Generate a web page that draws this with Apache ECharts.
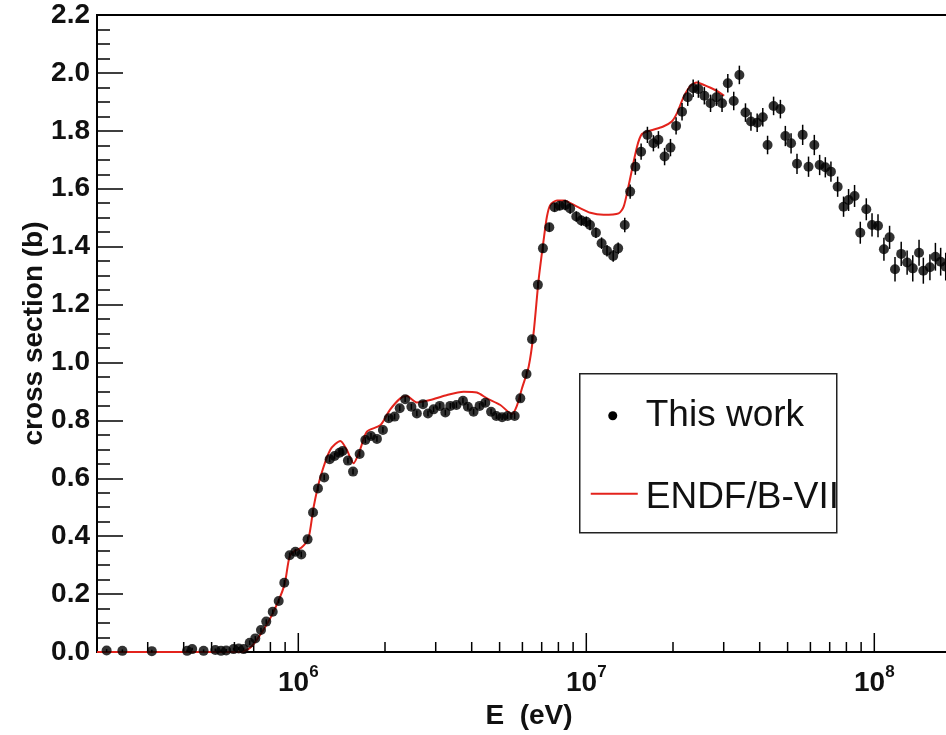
<!DOCTYPE html>
<html>
<head>
<meta charset="utf-8">
<script src="https://cdn.jsdelivr.net/npm/echarts@6/dist/echarts.min.js"></script>
<style>
  html, body { margin: 0; padding: 0; background: #fff; }
  #chart { width: 946px; height: 735px; }
</style>
</head>
<body>
<div id="chart"></div>
<script>
// Measured cross section: neutron energy (eV), value (b), uncertainty (b)
const expE = [
  2.16e5, 2.45e5, 3.10e5, 4.11e5, 4.28e5, 4.69e5, 5.15e5, 5.39e5, 5.62e5, 5.96e5,
  6.21e5, 6.46e5, 6.78e5, 7.09e5, 7.42e5, 7.74e5, 8.15e5, 8.55e5, 8.94e5, 9.33e5,
  9.77e5, 1.024e6, 1.077e6, 1.125e6, 1.17e6, 1.23e6, 1.285e6, 1.337e6, 1.39e6, 1.425e6,
  1.487e6, 1.549e6, 1.633e6, 1.709e6, 1.788e6, 1.875e6, 1.967e6, 2.06e6, 2.16e6, 2.25e6,
  2.35e6, 2.47e6, 2.58e6, 2.71e6, 2.82e6, 2.95e6, 3.10e6, 3.24e6, 3.37e6, 3.54e6,
  3.73e6, 3.88e6, 4.06e6, 4.26e6, 4.46e6, 4.67e6, 4.87e6, 5.10e6, 5.33e6, 5.64e6,
  5.90e6, 6.20e6, 6.48e6, 6.79e6, 7.07e6, 7.44e6, 7.76e6, 8.08e6, 8.45e6, 8.79e6,
  9.23e6, 9.61e6, 1.00e7, 1.03e7, 1.08e7, 1.13e7, 1.18e7, 1.24e7, 1.29e7, 1.36e7,
  1.42e7, 1.48e7, 1.55e7, 1.63e7, 1.71e7, 1.78e7, 1.87e7, 1.96e7, 2.05e7, 2.15e7,
  2.25e7, 2.35e7, 2.45e7, 2.57e7, 2.70e7, 2.83e7, 2.96e7, 3.10e7, 3.25e7, 3.40e7,
  3.57e7, 3.73e7, 3.92e7, 4.10e7, 4.26e7, 4.47e7, 4.72e7, 4.91e7, 5.14e7, 5.39e7,
  5.64e7, 5.91e7, 6.19e7, 6.46e7, 6.76e7, 7.07e7, 7.46e7, 7.82e7, 8.14e7, 8.54e7,
  8.94e7, 9.38e7, 9.82e7, 1.03e8, 1.08e8, 1.13e8, 1.18e8, 1.24e8, 1.30e8, 1.36e8,
  1.43e8, 1.48e8, 1.56e8, 1.63e8, 1.70e8, 1.77e8
];
const expSigma = [
  0.005, 0.004, 0.003, 0.004, 0.010, 0.004, 0.007, 0.004, 0.005, 0.010,
  0.012, 0.010, 0.032, 0.047, 0.076, 0.105, 0.139, 0.176, 0.239, 0.334,
  0.346, 0.337, 0.389, 0.482, 0.565, 0.603, 0.666, 0.677, 0.688, 0.694,
  0.661, 0.623, 0.684, 0.732, 0.746, 0.736, 0.767, 0.807, 0.813, 0.842,
  0.873, 0.847, 0.824, 0.856, 0.824, 0.838, 0.850, 0.827, 0.850, 0.853,
  0.868, 0.847, 0.830, 0.850, 0.861, 0.830, 0.815, 0.811, 0.815, 0.815,
  0.876, 0.960, 1.080, 1.268, 1.394, 1.467, 1.536, 1.541, 1.544, 1.532,
  1.504, 1.490, 1.486, 1.475, 1.448, 1.412, 1.386, 1.368, 1.394, 1.475,
  1.590, 1.676, 1.728, 1.786, 1.757, 1.769, 1.711, 1.742, 1.817, 1.866,
  1.916, 1.947, 1.944, 1.921, 1.895, 1.916, 1.895, 1.964, 1.903, 1.993,
  1.863, 1.832, 1.828, 1.847, 1.751, 1.886, 1.875, 1.782, 1.757, 1.686,
  1.786, 1.676, 1.751, 1.682, 1.674, 1.659, 1.607, 1.538, 1.561, 1.575,
  1.448, 1.529, 1.475, 1.472, 1.391, 1.432, 1.322, 1.375, 1.345, 1.325,
  1.379, 1.317, 1.329, 1.365, 1.348, 1.331
];
const expErr = [
  0.005, 0.005, 0.005, 0.005, 0.005, 0.005, 0.005, 0.005, 0.005, 0.005,
  0.005, 0.005, 0.008, 0.008, 0.008, 0.008, 0.008, 0.008, 0.010, 0.010,
  0.010, 0.010, 0.010, 0.010, 0.010, 0.010, 0.010, 0.010, 0.010, 0.010,
  0.010, 0.010, 0.010, 0.010, 0.010, 0.010, 0.010, 0.010, 0.010, 0.010,
  0.010, 0.010, 0.010, 0.010, 0.010, 0.010, 0.010, 0.010, 0.010, 0.010,
  0.010, 0.010, 0.010, 0.010, 0.010, 0.010, 0.010, 0.010, 0.010, 0.010,
  0.012, 0.012, 0.012, 0.012, 0.015, 0.015, 0.015, 0.015, 0.018, 0.018,
  0.018, 0.018, 0.018, 0.018, 0.018, 0.020, 0.020, 0.020, 0.020, 0.025,
  0.025, 0.028, 0.028, 0.028, 0.028, 0.030, 0.030, 0.030, 0.030, 0.030,
  0.030, 0.030, 0.030, 0.030, 0.030, 0.030, 0.030, 0.032, 0.032, 0.032,
  0.032, 0.032, 0.032, 0.032, 0.032, 0.032, 0.032, 0.035, 0.035, 0.035,
  0.035, 0.035, 0.035, 0.035, 0.035, 0.035, 0.035, 0.035, 0.038, 0.038,
  0.038, 0.038, 0.040, 0.040, 0.040, 0.040, 0.042, 0.042, 0.042, 0.045,
  0.045, 0.045, 0.045, 0.048, 0.048, 0.048
];

// Evaluated cross section (ENDF/B-VII): energy (eV), value (b)
const endfE = [
  2.0e5, 6.29e5, 6.81e5, 7.38e5, 8.12e5, 8.94e5, 9.33e5, 9.76e5, 1.024e6, 1.083e6,
  1.13e6, 1.19e6, 1.29e6, 1.40e6, 1.47e6, 1.556e6, 1.64e6, 1.73e6, 1.93e6, 2.08e6,
  2.26e6, 2.38e6, 2.58e6, 2.87e6, 3.24e6, 3.75e6, 4.17e6, 4.52e6, 5.03e6, 5.52e6,
  5.74e6, 5.98e6, 6.31e6, 6.56e6, 6.83e6, 7.11e6, 7.30e6, 7.50e6, 7.91e6, 8.34e6,
  9.29e6, 1.033e7, 1.148e7, 1.295e7, 1.348e7, 1.40e7, 1.50e7, 1.56e7, 1.67e7, 1.85e7,
  1.98e7, 2.065e7, 2.18e7, 2.30e7, 2.42e7, 2.55e7, 2.80e7, 3.01e7
];
const endfSigma = [
  0.0, 0.0, 0.015, 0.06, 0.13, 0.23, 0.33, 0.35, 0.36, 0.39,
  0.50, 0.60, 0.698, 0.729, 0.70, 0.652, 0.70, 0.761, 0.784, 0.836,
  0.876, 0.884, 0.862, 0.870, 0.886, 0.899, 0.896, 0.876, 0.853, 0.822,
  0.850, 0.911, 0.986, 1.101, 1.285, 1.423, 1.504, 1.544, 1.559, 1.559,
  1.538, 1.517, 1.510, 1.515, 1.538, 1.607, 1.745, 1.789, 1.801, 1.815,
  1.832, 1.861, 1.918, 1.955, 1.967, 1.959, 1.941, 1.921
];

// Axis ranges and labels
const xRange = [2e5, 2e8];
const yRange = [0, 2.2];
const yStep = 0.2;
const decadeExponents = [5, 6, 7, 8];
const minorMultipliers = [2, 3, 4, 5, 6, 7, 8, 9];
const legendLabels = ['This work', 'ENDF/B-VII'];
const xTitle = 'E  (eV)';
const yTitle = 'cross section (b)';

// tick marks along the energy axis: [energy, isMajor], kept inside the range
const xTicks = [];
decadeExponents.forEach(function (p) {
  xTicks.push([Math.pow(10, p), 1]);
  minorMultipliers.forEach(function (m) { xTicks.push([m * Math.pow(10, p), 0]); });
});
const xTicksInRange = xTicks.filter(function (t) { return t[0] > xRange[0] && t[0] < xRange[1]; });

const FONT = '"Liberation Sans", Arial, Helvetica, sans-serif';

const chart = echarts.init(document.getElementById('chart'), null, { renderer: 'canvas' });

const points = expE.map(function (e, i) { return [e, expSigma[i]]; });
const bars = expE.map(function (e, i) { return [e, expSigma[i], expErr[i]]; });
const curve = endfE.map(function (e, i) { return [e, endfSigma[i]]; });

chart.setOption({
  animation: false,
  backgroundColor: '#fff',
  grid: {
    left: 97, top: 15, right: -15, bottom: 83,
    outerBoundsMode: 'none', containLabel: false,
    show: true, borderColor: '#000', borderWidth: 2, backgroundColor: 'transparent'
  },
  xAxis: {
    type: 'log', logBase: 10, min: xRange[0], max: xRange[1],
    axisLine: { show: true, lineStyle: { color: '#000', width: 2 } },
    axisTick: { show: false },
    splitLine: { show: false },
    axisLabel: {
      margin: 12,
      formatter: function (v) {
        const p = Math.log10(v), r = Math.round(p);
        if (Math.abs(p - r) > 1e-6) return '';
        return '{b|10}{s|' + r + '}';
      },
      rich: {
        b: { fontFamily: FONT, fontWeight: 'bold', fontSize: 28, color: '#111', lineHeight: 33, verticalAlign: 'bottom' },
        s: { fontFamily: FONT, fontWeight: 'bold', fontSize: 17, color: '#111', lineHeight: 17, verticalAlign: 'top' }
      }
    },
    name: xTitle, nameLocation: 'middle', nameGap: 50, nameMoveOverlap: false,
    nameTextStyle: { fontFamily: FONT, fontWeight: 'bold', fontSize: 28, color: '#111' }
  },
  yAxis: {
    type: 'value', min: yRange[0], max: yRange[1], interval: yStep,
    axisLine: { show: true, lineStyle: { color: '#000', width: 2 } },
    axisTick: { show: true, inside: true, length: 26, lineStyle: { color: '#000', width: 1.5 } },
    minorTick: { show: true, splitNumber: 4, length: 13, lineStyle: { color: '#000', width: 1.5 } },
    splitLine: { show: false },
    axisLabel: {
      margin: 7, fontFamily: FONT, fontWeight: 'bold', fontSize: 28, color: '#111',
      formatter: function (v) { return v.toFixed(1); }
    },
    name: yTitle, nameLocation: 'middle', nameGap: 49, nameRotate: 90, nameMoveOverlap: false,
    nameTextStyle: { fontFamily: FONT, fontWeight: 'bold', fontSize: 28, color: '#111' }
  },
  series: [
    {
      // energy-axis tick marks, pointing into the frame
      type: 'custom', silent: true, z: 1,
      data: xTicksInRange,
      renderItem: function (params, api) {
        const p = api.coord([api.value(0), yRange[0]]);
        const len = api.value(1) ? 19 : 10;
        return {
          type: 'line',
          shape: { x1: p[0], y1: p[1], x2: p[0], y2: p[1] - len },
          style: { stroke: '#000', lineWidth: 1.5 }
        };
      }
    },
    {
      name: legendLabels[1], type: 'line', data: curve, z: 2,
      showSymbol: false, smooth: 0.25,
      lineStyle: { color: '#e3231c', width: 2 }
    },
    {
      // vertical error bars
      type: 'custom', silent: true, z: 3,
      data: bars,
      renderItem: function (params, api) {
        const e = api.value(0), s = api.value(1), d = api.value(2);
        const lo = api.coord([e, s - d]);
        const hi = api.coord([e, s + d]);
        return {
          type: 'line',
          shape: { x1: lo[0], y1: lo[1], x2: hi[0], y2: hi[1] },
          style: { stroke: '#000', lineWidth: 1.5 }
        };
      }
    },
    {
      name: legendLabels[0], type: 'scatter', data: points, z: 4,
      symbol: 'circle', symbolSize: 10,
      itemStyle: { color: '#000' }
    }
  ],
  graphic: [
    {
      type: 'group', left: 579, top: 373,
      children: [
        { type: 'rect', shape: { x: 0, y: 0, width: 257, height: 159 },
          style: { fill: '#fff', stroke: '#222', lineWidth: 1.5 } },
        { type: 'circle', shape: { cx: 33, cy: 42, r: 4.5 }, style: { fill: '#000' } },
        { type: 'text', x: 66, y: 42,
          style: { text: legendLabels[0], font: 'normal 37px ' + FONT, fill: '#111', textVerticalAlign: 'middle' } },
        { type: 'line', shape: { x1: 11, y1: 120, x2: 58, y2: 120 },
          style: { stroke: '#e3231c', lineWidth: 2 } },
        { type: 'text', x: 66, y: 124,
          style: { text: legendLabels[1], font: 'normal 37px ' + FONT, fill: '#111', textVerticalAlign: 'middle' } }
      ]
    }
  ]
});
</script>
</body>
</html>
